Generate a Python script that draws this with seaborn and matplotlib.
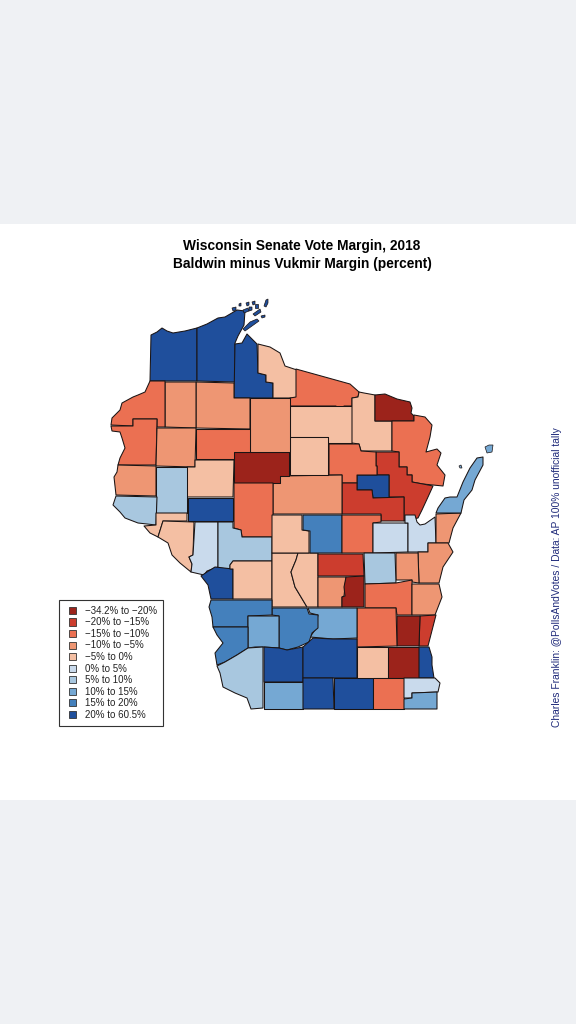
import matplotlib
matplotlib.use("Agg")
import matplotlib.pyplot as plt
from matplotlib.patches import Patch
from matplotlib.legend_handler import HandlerPatch
import seaborn as sns

# Class labels and colours
CLASS_LABELS = ["\u221234.2% to \u221220%", "\u221220% to \u221215%", "\u221215% to \u221210%", "\u221210% to \u22125%",
                "\u22125% to 0%", "0% to 5%", "5% to 10%", "10% to 15%", "15% to 20%", "20% to 60.5%"]
CLASS_COLORS = ["#9C231B", "#CC3D2E", "#EB7052", "#EE9673", "#F4BFA3",
                "#C9DAEC", "#A8C7DF", "#75A8D3", "#4480BC", "#1F4F9C"]

# County outlines (picture coordinates) and the margin class of each
DOUGLAS = [(151,335),(157,332),(162,328),(167,331),(173,333),(185,331),(197,328),(197,381),(150,381)]
BAYFIELD = [(197,328),(207,324),(218,318),(225,317),(237,310),(245,311),(244,325),(238,336),(235,343),(235,382),(197,381)]
ASHLAND = [(235,344),(242,343),(247,334),(257,344),(258,373),(266,375),(266,382),(273,383),(273,398),(234,398)]
IRON = [(258,344),(270,347),(280,353),(285,366),(297,370),(297,398),(273,398),(273,383),(266,382),(266,375),(258,373)]
VILAS = [(296,369),(350,384),(359,392),(358,397),(352,398),(352,406),(344,406),(344,409),(336,409),(336,406),(290,406),(290,398),(296,397)]
ONEIDA = [(290,406),(352,406),(352,443),(328,443),(328,437),(290,437)]
FOREST = [(359,392),(364,393),(375,395),(375,421),(392,421),(392,451),(361,451),(359,444),(352,443),(352,398),(358,397)]
FLORENCE = [(375,395),(385,394),(397,399),(410,402),(412,408),(411,413),(414,416),(414,421),(375,421)]
MARINETTE = [(392,421),(414,421),(414,415),(425,417),(432,425),(430,437),(426,452),(437,449),(441,453),(437,465),
             (445,475),(443,486),(423,484),(412,482),(412,475),(407,475),(407,467),(399,467),(399,452),(392,451)]
OCONTO = [(376,452),(399,452),(399,467),(407,467),(407,475),(412,475),(412,482),(423,484),(433,486),(428,497),
          (422,510),(418,518),(404,521),(404,497),(389,497),(389,475),(377,475),(377,466),(376,466)]
MENOMINEE = [(357,475),(389,475),(389,498),(373,498),(372,490),(357,490)]
LANGLADE = [(329,444),(359,444),(361,451),(376,452),(376,466),(377,466),(377,475),(357,475),(357,483),(342,483),(342,475),(329,475)]
SHAWANO = [(342,483),(357,483),(357,490),(372,490),(373,498),(404,497),(404,521),(381,521),(381,514),(342,514)]
MARATHON = [(280,476),(342,475),(342,514),(273,514),(273,483),(280,483)]
LINCOLN = [(290,437),(328,437),(328,475),(290,475)]
TAYLOR = [(234,452),(289,452),(289,476),(280,476),(280,483),(234,483)]
CLARK = [(234,483),(273,483),(273,537),(242,537),(241,530),(234,528)]
PRICE = [(250,398),(290,398),(290,452),(250,452)]
SAWYER = [(196,382),(234,383),(234,398),(250,398),(250,429),(196,428)]
RUSK = [(196,429),(250,429),(250,452),(234,452),(234,459),(196,459)]
WASHBURN = [(165,382),(196,382),(196,428),(165,427)]
BURNETT = [(150,381),(165,381),(165,427),(157,427),(157,419),(133,419),(133,426),(111,425),(112,418),(120,410),
           (122,403),(133,397),(138,395),(145,392)]
POLK = [(111,426),(133,426),(133,419),(157,419),(156,465),(118,465),(120,458),(125,448),(122,438),(120,432),(112,431)]
BARRON = [(157,428),(196,428),(195,467),(156,466)]
CHIPPEWA = [(187,467),(195,467),(195,460),(234,460),(233,497),(187,497)]
DUNN = [(156,467),(187,467),(187,513),(156,513)]
ST_CROIX = [(118,465),(156,466),(156,496),(116,495),(114,477),(117,472)]
PIERCE = [(116,496),(157,497),(156,525),(138,523),(125,518),(120,512),(113,505)]
PEPIN = [(144,526),(156,525),(156,513),(187,513),(187,521),(163,521),(158,537),(150,533)]
BUFFALO = [(163,521),(194,522),(193,555),(189,557),(192,564),(191,572),(180,563),(172,555),(168,543),(158,537)]
TREMPEALEAU = [(195,522),(218,522),(218,567),(207,571),(204,575),(191,572),(192,564),(189,557),(193,555)]
JACKSON = [(218,522),(233,522),(233,528),(241,530),(242,537),(272,537),(272,561),(233,561),(230,565),(230,569),(218,568)]
EAU_CLAIRE = [(188,498),(233,498),(233,521),(188,521)]
LA_CROSSE = [(201,576),(207,572),(215,567),(233,569),(233,599),(211,599),(208,585)]
MONROE = [(230,565),(233,561),(272,561),(272,599),(233,599),(233,569),(230,569)]
JUNEAU = [(272,553),(298,553),(296,560),(291,572),(295,587),(307,607),(272,607)]
ADAMS = [(298,553),(318,553),(318,607),(307,607),(295,587),(291,572),(296,560)]
WOOD = [(272,515),(302,515),(302,530),(309,531),(309,553),(272,553)]
PORTAGE = [(303,515),(342,515),(342,553),(310,553),(310,531),(303,530)]
WAUPACA = [(342,515),(381,515),(381,522),(373,523),(373,553),(342,553)]
OUTAGAMIE = [(373,523),(408,523),(408,552),(373,553)]
BROWN = [(405,515),(415,515),(417,522),(420,525),(425,524),(435,517),(436,543),(428,543),(428,552),(408,552),(408,523),(405,523)]
KEWAUNEE = [(436,514),(461,513),(453,528),(449,543),(436,543)]
DOOR = [(436,513),(438,508),(445,498),(450,497),(457,497),(463,482),(470,468),(477,458),(483,457),(483,465),
        (475,480),(472,490),(464,500),(461,513)]
MANITOWOC = [(428,543),(448,543),(453,552),(443,567),(439,583),(419,583),(418,552),(428,552)]
CALUMET = [(396,553),(418,553),(419,583),(412,582),(412,580),(396,580)]
WINNEBAGO = [(364,553),(395,553),(396,583),(365,584)]
WAUSHARA = [(318,554),(363,554),(364,576),(318,576)]
MARQUETTE = [(318,577),(346,577),(345,587),(344,596),(342,597),(342,607),(318,607)]
GREEN_LAKE = [(346,577),(364,576),(364,607),(342,607),(342,597),(345,596),(344,587)]
FOND_DU_LAC = [(365,584),(396,583),(412,580),(412,615),(397,615),(396,608),(365,608)]
SHEBOYGAN = [(412,584),(439,584),(442,597),(435,615),(412,615)]
OZAUKEE = [(420,616),(436,615),(428,646),(419,646)]
WASHINGTON = [(397,616),(420,616),(419,646),(397,646)]
DODGE = [(357,608),(396,608),(397,646),(357,647)]
COLUMBIA = [(308,608),(357,608),(357,638),(333,639),(310,637),(315,630),(318,615),(310,613)]
SAUK = [(272,608),(307,608),(309,614),(318,615),(318,628),(312,633),(309,642),(298,647),(287,650),(279,648),(279,616),(272,615)]
VERNON = [(211,600),(272,600),(272,615),(248,616),(248,627),(213,627),(212,617),(209,607)]
RICHLAND = [(248,616),(279,616),(279,648),(263,647),(255,647),(248,648)]
CRAWFORD = [(213,627),(248,627),(248,648),(237,655),(225,662),(217,665),(215,653),(223,643),(217,635)]
GRANT = [(217,666),(225,662),(237,655),(248,648),(263,647),(263,708),(251,709),(247,698),(235,693),(223,687),(220,673)]
IOWA = [(264,647),(279,648),(287,650),(303,647),(303,682),(264,682)]
LAFAYETTE = [(264,682),(303,682),(303,709),(264,709)]
DANE = [(303,647),(313,638),(333,639),(357,639),(357,678),(303,678)]
GREEN = [(303,678),(333,678),(334,709),(303,709)]
ROCK = [(334,678),(373,678),(373,709),(334,709)]
JEFFERSON = [(357,647),(388,647),(388,678),(357,678)]
WAUKESHA = [(388,647),(419,647),(419,678),(388,678)]
MILWAUKEE = [(419,647),(429,647),(432,657),(432,665),(434,678),(419,678)]
WALWORTH = [(373,678),(404,678),(404,709),(373,709)]
RACINE = [(404,678),(435,678),(440,683),(438,692),(412,693),(412,698),(404,698)]
KENOSHA = [(404,699),(412,698),(412,693),(437,692),(437,709),(404,709)]

COUNTY_SHAPES = [DOUGLAS, BAYFIELD, ASHLAND, IRON, VILAS, ONEIDA, FOREST, FLORENCE, MARINETTE, OCONTO, MENOMINEE,
                 LANGLADE, SHAWANO, MARATHON, LINCOLN, TAYLOR, CLARK, PRICE, SAWYER, RUSK, WASHBURN, BURNETT, POLK,
                 BARRON, CHIPPEWA, DUNN, ST_CROIX, PIERCE, PEPIN, BUFFALO, TREMPEALEAU, JACKSON, EAU_CLAIRE,
                 LA_CROSSE, MONROE, JUNEAU, ADAMS, WOOD, PORTAGE, WAUPACA, OUTAGAMIE, BROWN, KEWAUNEE, DOOR,
                 MANITOWOC, CALUMET, WINNEBAGO, WAUSHARA, MARQUETTE, GREEN_LAKE, FOND_DU_LAC, SHEBOYGAN, OZAUKEE,
                 WASHINGTON, DODGE, COLUMBIA, SAUK, VERNON, RICHLAND, CRAWFORD, GRANT, IOWA, LAFAYETTE, DANE, GREEN,
                 ROCK, JEFFERSON, WAUKESHA, MILWAUKEE, WALWORTH, RACINE, KENOSHA]
COUNTY_CLASS = [9, 9, 9, 4, 2, 4, 4, 0, 2, 1, 9,
                2, 1, 3, 4, 0, 2, 3, 3, 2, 3, 2, 2,
                3, 4, 6, 3, 6, 4, 4, 5, 6, 9,
                9, 4, 4, 4, 4, 8, 2, 5, 5, 3, 7,
                3, 3, 6, 1, 3, 0, 2, 3, 1,
                0, 2, 7, 8, 8, 7, 8, 6, 9, 7, 9, 9,
                9, 4, 0, 9, 2, 5, 7]

# Islands: Apostle group (Ashland/Bayfield) and Door group
APOSTLE_ISLANDS = [[(264,306),(266,300),(268,299),(268,303),(266,307)],
                   [(253,314),(260,309),(261,312),(255,316)],
                   [(243,329),(250,322),(257,319),(259,321),(252,326),(245,331)],
                   [(232,308),(236,307),(236,310),(233,311)],
                   [(239,304),(241,303),(241,306),(239,306)],
                   [(246,303),(249,302),(249,305),(247,306)],
                   [(252,302),(255,301),(255,304),(253,305)],
                   [(255,304),(258,304),(258,308),(255,308)],
                   [(243,310),(248,308),(249,311),(244,313)],
                   [(249,307),(252,307),(252,310),(249,311)],
                   [(261,316),(265,315),(265,317),(262,318)]]
DOOR_ISLANDS = [[(485,447),(489,445),(493,445),(492,452),(487,453)],
                [(459,466),(461,465),(462,468),(460,468)]]

TITLE_LINES = ["Wisconsin Senate Vote Margin, 2018", "Baldwin minus Vukmir Margin (percent)"]
CREDIT = "Charles Franklin: @PollsAndVotes / Data: AP 100% unofficial tally"


class InsetKey(HandlerPatch):
    """Legend key that leaves a small gap on its left side."""
    def create_artists(self, legend, orig_handle, xdescent, ydescent, width, height, fontsize, trans):
        artists = super().create_artists(legend, orig_handle, xdescent, ydescent, width, height, fontsize, trans)
        artists[0].set_x(artists[0].get_x() + 3)
        artists[0].set_width(width - 3)
        return artists


sns.set_theme(style="white")
plt.rcParams["font.family"] = ["Liberation Sans", "DejaVu Sans"]
palette = sns.color_palette(CLASS_COLORS)

fig = plt.figure(figsize=(5.76, 10.24), dpi=100, facecolor="#EFF1F4")
ax = fig.add_axes([0, 0, 1, 1])
ax.set_xlim(0, 576)
ax.set_ylim(1024, 0)
ax.set_facecolor("#EFF1F4")
ax.axis("off")
ax.axhspan(224, 800, color="white", lw=0, zorder=0)

EDGE = "#1A1414"
for shape, cls in zip(COUNTY_SHAPES, COUNTY_CLASS):
    xs, ys = zip(*shape)
    ax.fill(xs, ys, facecolor=palette[cls], edgecolor=EDGE, linewidth=0.75, joinstyle="round", zorder=2)
for isl in APOSTLE_ISLANDS:
    xs, ys = zip(*isl)
    ax.fill(xs, ys, facecolor=palette[9], edgecolor=EDGE, linewidth=0.5, zorder=2)
for isl in DOOR_ISLANDS:
    xs, ys = zip(*isl)
    ax.fill(xs, ys, facecolor=palette[7], edgecolor=EDGE, linewidth=0.5, zorder=2)

ax.text(302, 246, TITLE_LINES[0], ha="center", va="center", fontsize=9.95, fontweight="bold", color="black")
ax.text(302, 264, TITLE_LINES[1], ha="center", va="center", fontsize=9.95, fontweight="bold", color="black")
ax.text(557, 577, CREDIT, rotation=90, ha="center", va="center", fontsize=7.4, color="#1F2A7A")

handles = [Patch(facecolor=c, edgecolor="#333333", linewidth=0.6, label=l) for c, l in zip(palette, CLASS_LABELS)]
leg = ax.legend(handles=handles, handler_map={Patch: InsetKey()}, loc="upper left", bbox_to_anchor=(59, 600),
                bbox_transform=ax.transData, fontsize=7, frameon=True, fancybox=False, edgecolor="#333333",
                facecolor="white", framealpha=1, borderaxespad=0, handlelength=1.18, handleheight=0.75,
                handletextpad=0.85, labelspacing=0.16, borderpad=0.6, labelcolor="#222222")
leg.get_frame().set_linewidth(0.8)
leg.set_zorder(5)

fig.savefig("out.png", dpi=100, facecolor=fig.get_facecolor())
